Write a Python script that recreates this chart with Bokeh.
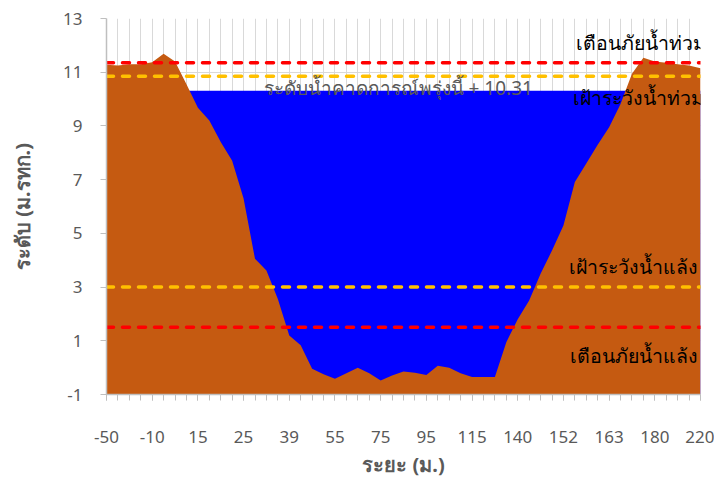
from bokeh.plotting import figure
from bokeh.models import Range1d, FixedTicker, Label, ColumnDataSource
from bokeh.embed import file_html
from bokeh.resources import INLINE

# distance tick labels (every 4th category of 53)
tick_labels = ["-50", "-10", "15", "25", "39", "55", "75", "95", "115", "140", "152", "163", "180", "220"]
label_step = 4

# ground level (m. MSL) at each of 53 survey points
ground = [11.28, 11.25, 11.30, 11.30, 11.37, 11.69, 11.40, 10.55, 9.68, 9.20,
          8.40, 7.70, 6.30, 4.05, 3.62, 2.56, 1.20, 0.83, -0.04, -0.25,
          -0.41, -0.21, 0.00, -0.21, -0.48, -0.29, -0.14, -0.19, -0.27, 0.07,
          0.00, -0.21, -0.35, -0.35, -0.35, 0.95, 1.80, 2.50, 3.50, 4.36,
          5.29, 6.91, 7.60, 8.30, 8.95, 9.82, 10.94, 11.54, 11.40, 11.35,
          11.30, 11.25, 11.15]

forecast_level = 10.31
flood_warning = 11.35
flood_watch = 10.85
drought_watch = 3.0
drought_warning = 1.5

n = len(ground)
xs = list(range(n))
ymin, ymax = -1, 13
yticks = list(range(ymin, ymax + 1, 2))

FONT = "Noto Sans"
GRAY = "#595959"

p = figure(frame_width=594, frame_height=376, output_backend="svg", toolbar_location=None,
           x_range=Range1d(0, n - 1), y_range=Range1d(ymin, ymax),
           min_border_left=106, min_border_right=14, min_border_top=18, min_border_bottom=86,
           background_fill_color="white", border_fill_color="white")
p.outline_line_color = None

src = ColumnDataSource(dict(x=xs, g=ground, w=[forecast_level] * n, b=[ymin] * n))
p.varea(x="x", y1="b", y2="w", source=src, fill_color="#0000FF")
p.varea(x="x", y1="b", y2="g", source=src, fill_color="#C55A11")

for lvl, col in [(flood_warning, "#FF0000"), (flood_watch, "#FFC000"),
                 (drought_watch, "#FFC000"), (drought_warning, "#FF0000")]:
    p.line(x=[0, n - 1], y=[lvl, lvl], line_color=col, line_width=3.5,
           line_dash="7 9", line_cap="round")

# axes
major = [i * label_step for i in range(len(tick_labels))]
p.xaxis.ticker = FixedTicker(ticks=major, minor_ticks=xs)
p.xaxis.major_label_overrides = {t: lab for t, lab in zip(major, tick_labels)}
p.yaxis.ticker = FixedTicker(ticks=yticks)
p.yaxis.major_label_overrides = {t: str(t) for t in yticks}
p.xgrid.ticker = FixedTicker(ticks=xs)
p.ygrid.ticker = FixedTicker(ticks=yticks)
p.grid.grid_line_color = "#D9D9D9"
p.grid.grid_line_width = 1

for ax in (p.xaxis[0], p.yaxis[0]):
    ax.axis_line_color = "#BFBFBF"
    ax.axis_line_width = 1.5
    ax.major_tick_line_color = "#BFBFBF"
    ax.minor_tick_line_color = "#BFBFBF"
    ax.major_tick_in = 0
    ax.major_tick_out = 6
    ax.minor_tick_in = 0
    ax.major_label_text_font = FONT
    ax.major_label_text_font_size = "17px"
    ax.major_label_text_color = GRAY
    ax.axis_label_text_font = FONT
    ax.axis_label_text_font_size = "20px"
    ax.axis_label_text_font_style = "bold"
    ax.axis_label_text_color = GRAY
p.xaxis.minor_tick_out = 6
p.yaxis.minor_tick_out = 0
p.xaxis.major_label_standoff = 30
p.yaxis.major_label_standoff = 18
p.xaxis.axis_label = "ระยะ (ม.)"
p.yaxis.axis_label = "ระดับ (ม.รทก.)"
p.xaxis.axis_label_standoff = 5
p.yaxis.axis_label_standoff = 24

def add_label(x, y, text, align, color="black", size="19.5px"):
    p.add_layout(Label(x=x, y=y, text=text, text_align=align, text_baseline="middle",
                       text_color=color, text_font=FONT, text_font_size=size))

add_label(52.45, 12.1, "เตือนภัยน้ำท่วม", "right")
add_label(52.3, 10.06, "เฝ้าระวังน้ำท่วม", "right")
add_label(13.75, 10.43, "ระดับน้ำคาดการณ์พรุ่งนี้ + " + f"{forecast_level:.2f}", "left", GRAY, "19px")
add_label(51.8, 3.77, "เฝ้าระวังน้ำแล้ง", "right")
add_label(51.75, 0.45, "เตือนภัยน้ำแล้ง", "right")

open("out.html", "w").write(file_html(p, INLINE))
